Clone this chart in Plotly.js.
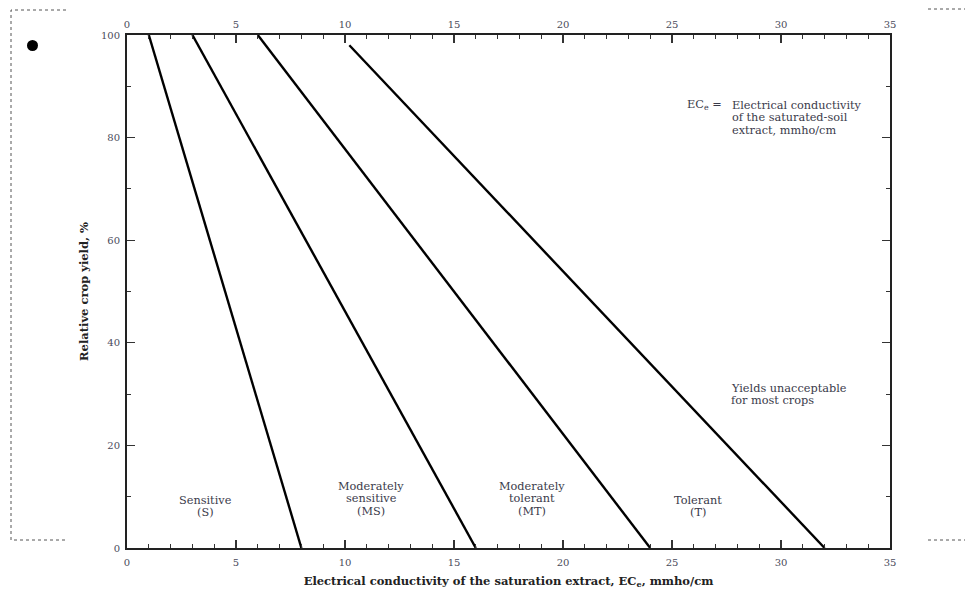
<!DOCTYPE html>
<html>
<head>
<meta charset="utf-8">
<script src="https://cdn.plot.ly/plotly-3.0.1.min.js"></script>
<style>html,body{margin:0;padding:0;background:#fff;}#chart{width:965px;height:595px;}</style>
</head>
<body>
<div id="chart"></div>
<script>
// Data
const classes = ["Sensitive", "Moderately sensitive", "Moderately tolerant", "Tolerant"];
const ecStart = [1, 3, 6, 10.2];
const ecEnd = [8, 16, 24, 32];
const yieldStart = [100, 100, 100, 98];
const yieldEnd = [0, 0, 0, 0];
const xTicks = [0, 5, 10, 15, 20, 25, 30, 35];
const yTicks = [0, 20, 40, 60, 80, 100];
const classLabels = [["Sensitive", "(S)"], ["Moderately", "sensitive", "(MS)"], ["Moderately", "tolerant", "(MT)"], ["Tolerant", "(T)"]];
const noteLines = ["Electrical conductivity", "of the saturated-soil", "extract, mmho/cm"];
const yieldLines = ["Yields unacceptable", "for most crops"];

const W = 965, H = 595;
const L = 127, R = 890, T = 35, B = 548;
const px = v => (v - L) / (R - L);
const py = v => (B - v) / (B - T);

const traces = classes.map((c, i) => ({
  x: [ecStart[i], ecEnd[i]],
  y: [yieldStart[i], yieldEnd[i]],
  mode: 'lines', type: 'scatter', name: c,
  line: {color: '#000', width: 2.4},
  hoverinfo: 'skip'
}));
// dummy trace for top axis
traces.push({x: [0, 35], y: [0, 0], xaxis: 'x2', mode: 'lines', line: {width: 0}, showlegend: false, hoverinfo: 'skip'});

const SERIF = 'DejaVu Serif, serif';
const tickFont = {family: SERIF, size: 10, color: '#4a4a5a'};
const txtFont = {family: SERIF, size: 11.3, color: '#3a3a4a'};
const titleFont = {family: SERIF, size: 11.5, color: '#222'};

const axisCommon = {
  range: [0, 35], tickvals: xTicks, ticks: 'inside', ticklen: 8, tickwidth: 1.2, tickcolor: '#333',
  showgrid: false, zeroline: false, showline: true, linecolor: '#222', linewidth: 2,
  tickfont: tickFont,
  minor: {dtick: 1, ticks: 'inside', ticklen: 4, tickwidth: 1, tickcolor: '#333', showgrid: false}
};

// block of text lines, each line its own annotation, ~12.7px line spacing
function block(xData, yTopPx, lines, xanchor) {
  return lines.map((t, i) => ({
    x: xData, y: py(yTopPx + i * 12.7), xref: 'x', yref: 'paper', text: t, showarrow: false,
    xanchor: xanchor || 'center', yanchor: 'middle', font: txtFont
  }));
}

const annotations = [].concat(
  block(3.6, 500, classLabels[0]),
  block(11.2, 486, classLabels[1]),
  block(18.6, 486, classLabels[2]),
  block(26.2, 500, classLabels[3]),
  block(27.66, 105, noteLines, 'left'),
  [{x: 27.4, y: py(105), xref: 'x', yref: 'paper', text: 'EC<sub>e</sub> =', showarrow: false, xanchor: 'right', yanchor: 'middle', font: txtFont}],
  block(27.62, 388, yieldLines, 'left')
);

const layout = {
  width: W, height: H,
  margin: {l: L, r: W - R, t: T, b: H - B, pad: 0},
  paper_bgcolor: '#fff', plot_bgcolor: '#fff',
  showlegend: false,
  xaxis: Object.assign({}, axisCommon, {
    title: {text: '<b>Electrical conductivity of the saturation extract, EC<sub>e</sub>, mmho/cm</b>', font: titleFont, standoff: 10},
    ticklabelstandoff: 4,
    mirror: false
  }),
  xaxis2: Object.assign({}, axisCommon, {overlaying: 'x', side: 'top', anchor: 'y', ticklabelstandoff: 1}),
  yaxis: {
    range: [0, 100], tickvals: yTicks, ticks: 'inside', ticklen: 8, tickwidth: 1.2, tickcolor: '#333',
    showgrid: false, zeroline: false, showline: true, linecolor: '#222', linewidth: 2, mirror: 'ticks',
    tickfont: tickFont, ticklabelstandoff: 3,
    minor: {dtick: 10, ticks: 'inside', ticklen: 4, tickwidth: 1, tickcolor: '#333', showgrid: false},
    title: {text: '<b>Relative crop yield, %</b>', font: titleFont, standoff: 10}
  },
  annotations: annotations,
  shapes: [
    {type: 'path', xref: 'paper', yref: 'paper',
     path: `M ${px(66)} ${py(10)} L ${px(11)} ${py(10)} L ${px(11)} ${py(540)} L ${px(66)} ${py(540)}`,
     line: {color: '#555', width: 1, dash: 'dot'}},
    {type: 'line', xref: 'paper', yref: 'paper', x0: px(928), x1: px(965), y0: py(9), y1: py(9), line: {color: '#555', width: 1, dash: 'dot'}},
    {type: 'line', xref: 'paper', yref: 'paper', x0: px(928), x1: px(965), y0: py(540), y1: py(540), line: {color: '#555', width: 1, dash: 'dot'}},
    {type: 'circle', xref: 'paper', yref: 'paper', x0: px(27), x1: px(38), y0: py(40), y1: py(51), fillcolor: '#000', line: {color: '#000', width: 0}}
  ]
};

Plotly.newPlot('chart', traces, layout, {displayModeBar: false, staticPlot: true});
</script>
</body>
</html>
